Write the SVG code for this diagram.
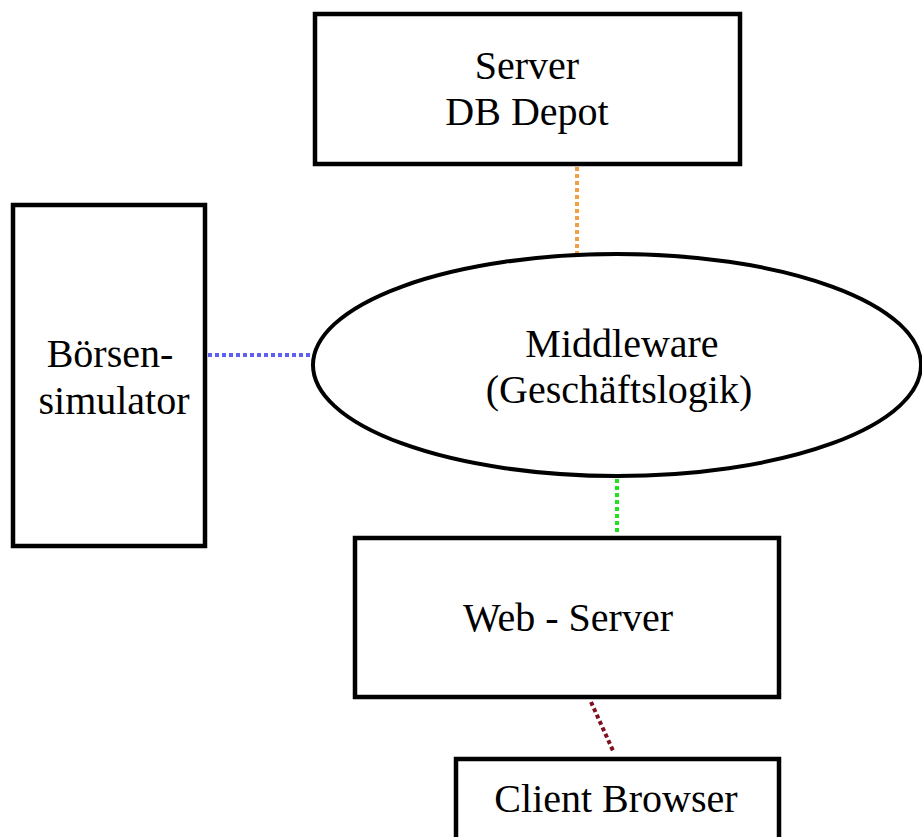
<svg xmlns="http://www.w3.org/2000/svg" width="922" height="837" viewBox="0 0 922 837">
<style>
.box{fill:#fff;stroke:#000;stroke-width:4.5}
.t{font-family:"Liberation Serif","Times New Roman",serif;font-size:40px;fill:#000;text-anchor:middle}
.c{fill:none;stroke-width:4;stroke-dasharray:4 3}
</style>
<rect width="922" height="837" fill="#fff"/>
<g id="connectors">
<line class="c" x1="577" y1="167" x2="577" y2="254" stroke="#f0a040"/>
<line class="c" x1="208" y1="355" x2="313" y2="355" stroke="#6060f0"/>
<line class="c" x1="617" y1="479" x2="617" y2="535" stroke="#20e020"/>
<line class="c" x1="591" y1="702" x2="614" y2="753" stroke="#801020"/>
</g>
<g id="server-db">
<rect class="box" x="315" y="14" width="425" height="150"/>
<text class="t" x="527" y="79">Server</text>
<text class="t" x="527" y="125">DB Depot</text>
</g>
<g id="boersensimulator">
<rect class="box" x="13" y="205" width="192" height="341"/>
<text class="t" x="110" y="367">Börsen-</text>
<text class="t" x="114" y="414">simulator</text>
</g>
<g id="middleware">
<ellipse cx="617" cy="365" rx="304" ry="111" fill="#fff" stroke="#000" stroke-width="4"/>
<text class="t" x="622" y="357">Middleware</text>
<text class="t" x="619" y="403">(Geschäftslogik)</text>
</g>
<g id="web-server">
<rect class="box" x="355" y="538" width="424" height="159"/>
<text class="t" x="568" y="631">Web - Server</text>
</g>
<g id="client-browser">
<rect class="box" x="456" y="759" width="323" height="100"/>
<text class="t" x="616" y="812">Client Browser</text>
</g>
</svg>
